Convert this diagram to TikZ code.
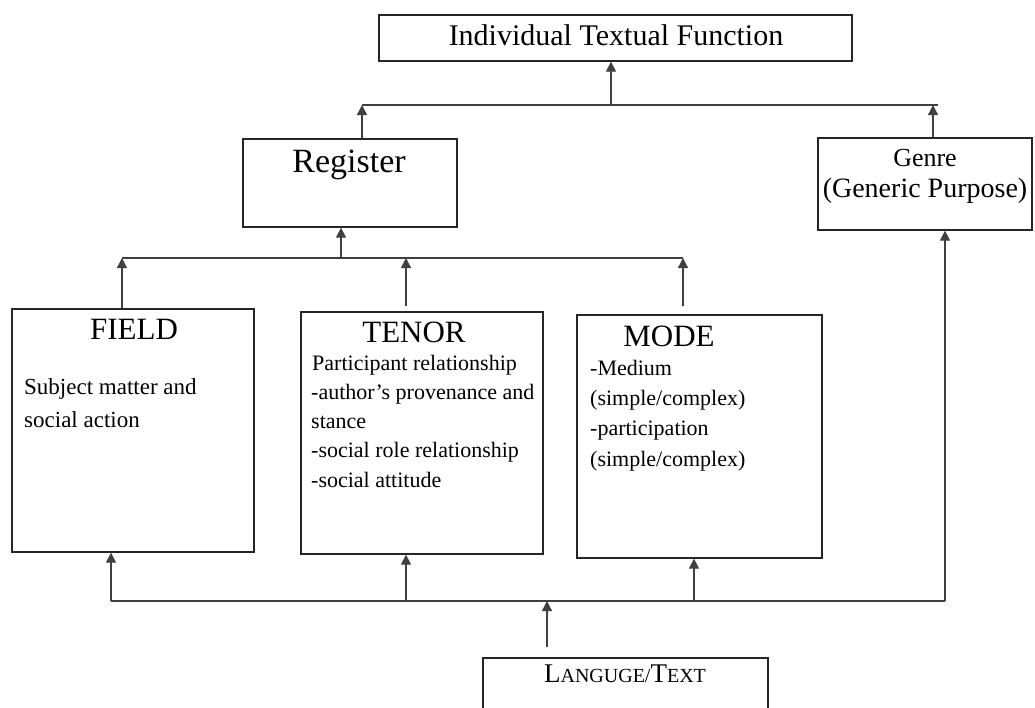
\documentclass[tikz,border=0pt]{standalone}
\usepackage{fontspec}
\setmainfont{Liberation Serif}
\usetikzlibrary{arrows.meta}
\tikzset{
  box/.style={draw=black!85,line width=1.3pt,inner sep=0pt},
  conn/.style={draw=black!75,line width=1.3pt},
  arr/.style={conn,-{Triangle[length=10pt,width=10pt]}},
  title/.style={inner sep=0pt,anchor=base,font=\fontsize{31}{31}\selectfont},
  body/.style={inner sep=0pt,anchor=base west,font=\fontsize{22}{22}\selectfont},
}

\begin{document}
\begin{tikzpicture}[x=1pt,y=-1pt]
\useasboundingbox (0,0) rectangle (1035,707);

% boxes
\node[box,minimum width=473pt,minimum height=46pt] (itf) at (615.5,38) {};
\node[box,minimum width=214pt,minimum height=88pt] (reg) at (350,183) {};
\node[box,minimum width=214pt,minimum height=92pt] (genre) at (925,184) {};
\node[box,minimum width=242pt,minimum height=243pt] (field) at (133,430.5) {};
\node[box,minimum width=242pt,minimum height=242pt] (tenor) at (422,433) {};
\node[box,minimum width=245pt,minimum height=243pt] (mode) at (699.5,436.5) {};
\node[box,minimum width=285pt,minimum height=72pt] (lang) at (625.5,694) {};

% texts
\node[inner sep=0pt,anchor=base,font=\fontsize{30}{30}\selectfont] (itftext) at (616,45) {Individual Textual Function};
\node[inner sep=0pt,anchor=base,font=\fontsize{34}{34}\selectfont] (regtext) at (349,172) {Register};
\node[inner sep=0pt,anchor=base,font=\fontsize{26}{26}\selectfont] (genretext) at (925,166) {Genre};
\node[inner sep=0pt,anchor=base,font=\fontsize{28}{28}\selectfont] (genrepurp) at (925,197) {(Generic Purpose)};

\node[title] (fieldtitle) at (134,339) {FIELD};
\node[body,font=\fontsize{23}{23}\selectfont] (field1) at (24,394) {Subject matter and};
\node[body,font=\fontsize{23}{23}\selectfont] (field2) at (24,427) {social action};

\node[title] (tenortitle) at (414,342) {TENOR};
\node[body] (tenor1) at (312,370) {Participant relationship};
\node[body] (tenor2) at (311,399) {-author’s provenance and};
\node[body] (tenor3) at (311,428) {stance};
\node[body] (tenor4) at (311,457) {-social role relationship};
\node[body] (tenor5) at (311,487) {-social attitude};

\node[title] (modetitle) at (669,346) {MODE};
\node[body] (mode1) at (590,375) {-Medium};
\node[body] (mode2) at (590,405) {(simple/complex)};
\node[body] (mode3) at (590,435) {-participation};
\node[body] (mode4) at (590,466) {(simple/complex)};

\node[inner sep=0pt,anchor=base,font=\fontsize{20}{20}\selectfont] (langtext) at (625,682)
  {{\fontsize{27}{27}\selectfont L}ANGUGE/{\fontsize{27}{27}\selectfont T}EXT};

% top bus
\coordinate (tbl) at (362,105);
\coordinate (tbr) at (938,105);
\coordinate (tbm) at (611,105);
\coordinate (tbg) at (933,105);
\draw[conn] (tbl) -- (tbr);
\draw[arr] (tbm) -- (tbm |- itf.south);
\draw[arr] (tbl |- reg.north) -- (tbl);
\draw[arr] (tbg |- genre.north) -- (tbg);

% middle bus
\coordinate (mbf) at (122,258);
\coordinate (mbr) at (341,258);
\coordinate (mbt) at (406,258);
\coordinate (mbm) at (683,258);
\draw[conn] (mbf) -- (mbm);
\draw[arr] (mbr) -- (mbr |- reg.south);
\draw[arr] (mbf |- field.north) -- (mbf);
\draw[arr,shorten <=5pt] (mbt |- tenor.north) -- (mbt);
\draw[arr,shorten <=8pt] (mbm |- mode.north) -- (mbm);

% bottom bus
\coordinate (bbf) at (111,601);
\coordinate (bbt) at (406,601);
\coordinate (bbm) at (694,601);
\coordinate (bbg) at (945,601);
\coordinate (bbl) at (547,601);
\draw[conn] (bbf) -- (bbg);
\draw[arr] (bbf) -- (bbf |- field.south);
\draw[arr] (bbt) -- (bbt |- tenor.south);
\draw[arr] (bbm) -- (bbm |- mode.south);
\draw[arr] (bbg) -- (bbg |- genre.south);
\draw[arr,shorten <=10pt] (bbl |- lang.north) -- (bbl);
\end{tikzpicture}
\end{document}
